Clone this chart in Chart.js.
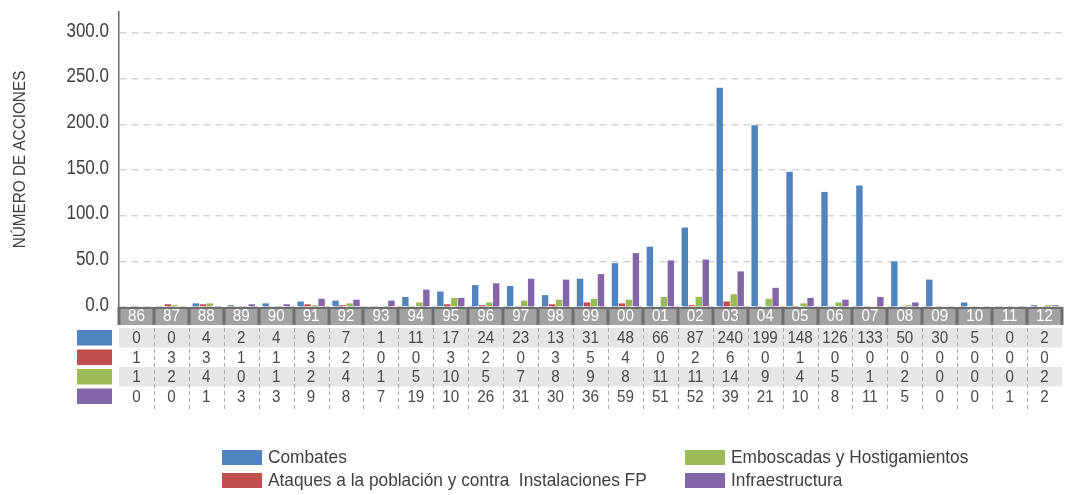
<!DOCTYPE html>
<html>
<head>
<meta charset="utf-8">
<script src="https://cdn.jsdelivr.net/npm/chart.js@4/dist/chart.umd.min.js"></script>
<style>
  html, body { margin: 0; padding: 0; background: #ffffff; }
  #wrap { width: 1068px; height: 495px; }
</style>
</head>
<body>
<div id="wrap"><canvas id="c" width="1068" height="495"></canvas></div>
<script>
// Años (dos dígitos) y acciones por tipo
const years = ['86','87','88','89','90','91','92','93','94','95','96','97','98','99','00','01','02','03','04','05','06','07','08','09','10','11','12'];
const combates   = [0,0,4,2,4,6,7,1,11,17,24,23,13,31,48,66,87,240,199,148,126,133,50,30,5,0,2];
const ataques    = [1,3,3,1,1,3,2,0,0,3,2,0,3,5,4,0,2,6,0,1,0,0,0,0,0,0,0];
const emboscadas = [1,2,4,0,1,2,4,1,5,10,5,7,8,9,8,11,11,14,9,4,5,1,2,0,0,0,2];
const infra      = [0,0,1,3,3,9,8,7,19,10,26,31,30,36,59,51,52,39,21,10,8,11,5,0,0,1,2];
const yTicks = [0, 50, 100, 150, 200, 250, 300];
const yTitle = 'NÚMERO DE ACCIONES';

const seriesNames = ['Combates', 'Ataques a la población y contra  Instalaciones FP', 'Emboscadas y Hostigamientos', 'Infraestructura'];
const seriesColors = ['#5084bf', '#c0504d', '#9bbb59', '#8266a8'];
const seriesData = [combates, ataques, emboscadas, infra];

const FONT = '"Liberation Sans", Arial, sans-serif';

// Texto estrechado horizontalmente (aspecto de fuente condensada)
function narrowText(ctx, text, x, y, size, sx, align, color, rot) {
  ctx.save();
  ctx.translate(x, y);
  if (rot) ctx.rotate(rot);
  ctx.scale(sx, 1);
  ctx.font = size + 'px ' + FONT;
  ctx.fillStyle = color;
  ctx.textAlign = align;
  ctx.textBaseline = 'middle';
  ctx.fillText(text, 0, 0);
  ctx.restore();
}

// Etiquetas del eje Y, banda de años, tabla de valores y leyenda
const tablePlugin = {
  id: 'tablePlugin',
  afterDraw(chart) {
    const ctx = chart.ctx;
    const x = chart.scales.x;
    const y = chart.scales.y;
    const area = chart.chartArea;
    const n = years.length;
    const step = x.getPixelForValue(1) - x.getPixelForValue(0);
    const left = area.left, right = area.right;
    const bandTop = area.bottom, bandH = 18;
    const rowTop = bandTop + bandH + 3, rowH = 19.5;

    ctx.save();
    // eje Y: valores y título
    yTicks.forEach(v => narrowText(ctx, v.toFixed(1), area.left - 10, y.getPixelForValue(v) - 2, 20, 0.85, 'right', '#404040'));
    narrowText(ctx, yTitle, 20, (area.top + area.bottom) / 2, 17, 0.9, 'center', '#404040', -Math.PI / 2);

    // banda de años
    ctx.fillStyle = '#a2a2a2';
    ctx.fillRect(left, bandTop, right - left, bandH);
    ctx.strokeStyle = '#6e6e6e';
    ctx.lineWidth = 3;
    for (let i = 0; i <= n; i++) {
      const bx = Math.round(x.getPixelForValue(i) - step / 2);
      ctx.beginPath();
      ctx.moveTo(bx, bandTop);
      ctx.lineTo(bx, bandTop + bandH);
      ctx.stroke();
    }
    ctx.lineWidth = 2;
    ctx.beginPath();
    ctx.moveTo(left, bandTop + 1);
    ctx.lineTo(right, bandTop + 1);
    ctx.stroke();
    years.forEach((t, i) => narrowText(ctx, t, x.getPixelForValue(i), bandTop + bandH / 2 + 1, 16, 0.95, 'center', '#ffffff'));

    // filas de la tabla
    for (let r = 0; r < 4; r++) {
      const ry = rowTop + r * rowH;
      if (r % 2 === 0) {
        ctx.fillStyle = '#e6e6e6';
        ctx.fillRect(left, ry, right - left, rowH);
      }
      ctx.fillStyle = seriesColors[r];
      ctx.fillRect(77, ry + 2, 35, rowH - 4);
      seriesData[r].forEach((v, i) => narrowText(ctx, String(v), x.getPixelForValue(i), ry + rowH / 2 + 1, 16, 0.95, 'center', '#4a4a4a'));
    }
    // separadores punteados
    ctx.strokeStyle = '#a8a8a8';
    ctx.lineWidth = 1;
    ctx.setLineDash([4, 3]);
    for (let i = 1; i < n; i++) {
      const bx = Math.round(x.getPixelForValue(i) - step / 2) + 0.5;
      ctx.beginPath();
      ctx.moveTo(bx, rowTop);
      ctx.lineTo(bx, rowTop + 4 * rowH + 4);
      ctx.stroke();
    }
    ctx.setLineDash([]);

    // leyenda
    const legend = [
      { i: 0, sx: 222, sy: 450 },
      { i: 1, sx: 222, sy: 473 },
      { i: 2, sx: 685, sy: 450 },
      { i: 3, sx: 685, sy: 473 }
    ];
    legend.forEach(l => {
      ctx.fillStyle = seriesColors[l.i];
      ctx.fillRect(l.sx, l.sy, 40, 15);
      narrowText(ctx, seriesNames[l.i], l.sx + 46, l.sy + 8, 19, 0.91, 'left', '#404040');
    });
    ctx.restore();
  }
};

new Chart(document.getElementById('c'), {
  type: 'bar',
  data: {
    labels: years,
    datasets: seriesData.map((d, i) => ({
      label: seriesNames[i],
      data: d,
      backgroundColor: seriesColors[i],
      borderWidth: 0,
      barPercentage: 0.92,
      categoryPercentage: 0.8
    }))
  },
  options: {
    responsive: false,
    devicePixelRatio: 1,
    animation: false,
    layout: { padding: { top: 12, bottom: 188, right: 6, left: 0 } },
    plugins: { legend: { display: false }, tooltip: { enabled: false } },
    scales: {
      x: { display: false, offset: true },
      y: {
        min: 0,
        max: 323,
        afterBuildTicks(scale) { scale.ticks = yTicks.map(v => ({ value: v })); },
        afterFit(scale) { scale.width = 119; },
        ticks: { display: false },
        grid: { color: '#d4d4d4', lineWidth: 1.5, drawTicks: false },
        border: { display: true, color: '#6a6a6a', width: 1.5, dash: [7, 5] },
        title: { display: false }
      }
    }
  },
  plugins: [tablePlugin]
});
</script>
</body>
</html>
